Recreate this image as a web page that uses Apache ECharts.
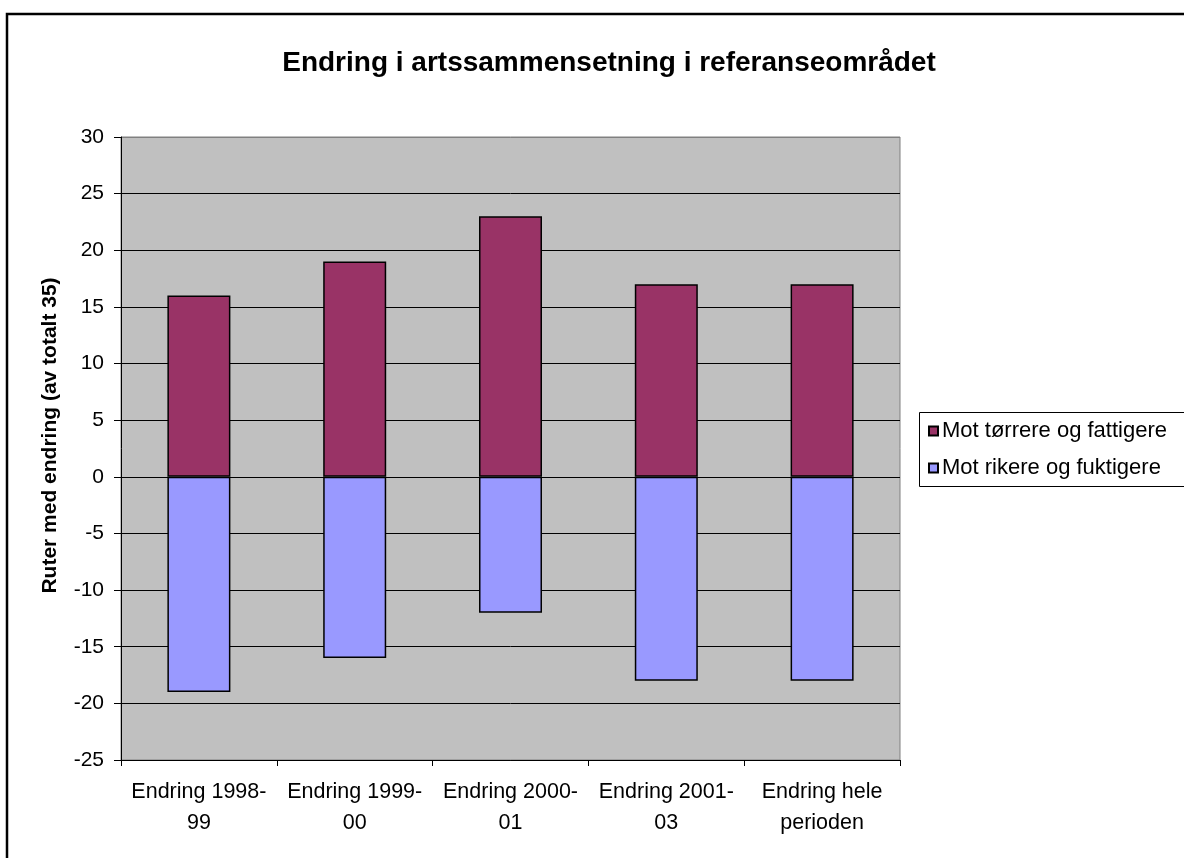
<!DOCTYPE html>
<html>
<head>
<meta charset="utf-8">
<script src="https://cdn.jsdelivr.net/npm/echarts@6/dist/echarts.min.js"></script>
<style>
  html, body { margin: 0; padding: 0; background: #fff; }
  #chart { width: 1184px; height: 858px; }
</style>
</head>
<body>
<div id="chart"></div>
<script>
// Category labels (explicit line breaks as shown under the axis)
const categories = ['Endring 1998-\n99', 'Endring 1999-\n00', 'Endring 2000-\n01', 'Endring 2001-\n03', 'Endring hele\nperioden'];
// Number of plots changing towards drier/poorer (positive) and richer/wetter (negative)
const torrereFattigere = [16, 19, 23, 17, 17];
const rikereFuktigere = [-19, -16, -12, -18, -18];
// Value axis range
const yMin = -25, yMax = 30, yStep = 5;

const FONT = 'Liberation Sans, Arial, sans-serif';
const chart = echarts.init(document.getElementById('chart'), null, { renderer: 'canvas' });

// one split line per tick from -25 to 30; the top one is the grey plot border
const nLines = (yMax - yMin) / yStep + 1;
const splitColors = [];
for (let i = 0; i < nLines; i++) splitColors.push(i === nLines - 1 ? '#808080' : '#000000');

chart.setOption({
  animation: false,
  backgroundColor: '#ffffff',
  textStyle: { fontFamily: FONT, color: '#000' },
  title: {
    text: 'Endring i artssammensetning i referanseområdet',
    left: 604, top: 44, textAlign: 'center',
    textStyle: { fontFamily: FONT, fontSize: 28, fontWeight: 'bold', color: '#000' }
  },
  graphic: [
    { type: 'rect', shape: { x: 7, y: 14, width: 1200, height: 900 },
      style: { fill: null, stroke: '#000', lineWidth: 2.5 }, silent: true, z: 100 },
    { type: 'rect', shape: { x: 919.5, y: 412.5, width: 300, height: 74 },
      style: { fill: '#fff', stroke: '#000', lineWidth: 1 }, silent: true, z: 1 }
  ],
  legend: {
    orient: 'vertical',
    left: 928, top: 420,
    padding: 0,
    itemWidth: 9, itemHeight: 9, itemGap: 15,
    icon: 'rect',
    textStyle: { fontFamily: FONT, fontSize: 22, lineHeight: 22, color: '#000', padding: [0, 0, 0, -1] },
    data: ['Mot tørrere og fattigere', 'Mot rikere og fuktigere'],
    z: 10
  },
  grid: {
    left: 121, top: 137, right: 284, bottom: 98,
    show: true, backgroundColor: '#c0c0c0', borderColor: '#808080', borderWidth: 1,
    containLabel: false
  },
  xAxis: {
    type: 'category',
    data: categories,
    boundaryGap: true,
    axisLine: { onZero: false, lineStyle: { color: '#000', width: 1 } },
    axisTick: { show: true, length: 6, lineStyle: { color: '#000' } },
    axisLabel: { fontFamily: FONT, fontSize: 21.5, color: '#000', margin: 17, lineHeight: 31, interval: 0 },
    splitLine: { show: false }
  },
  yAxis: {
    type: 'value',
    min: yMin, max: yMax, interval: yStep,
    name: 'Ruter med endring (av totalt 35)',
    nameLocation: 'middle', nameGap: 60, nameRotate: 90,
    nameTextStyle: { fontFamily: FONT, fontSize: 21, fontWeight: 'bold', color: '#000', padding: [0, 0, 0, 26] },
    axisLine: { show: true, lineStyle: { color: '#000', width: 1 } },
    axisTick: { show: true, length: 7, lineStyle: { color: '#000' } },
    axisLabel: { fontFamily: FONT, fontSize: 21, color: '#000', margin: 17 },
    splitLine: { show: true, lineStyle: { color: splitColors, width: 1 } }
  },
  series: [
    {
      name: 'Mot tørrere og fattigere',
      type: 'bar', stack: 'endring',
      barWidth: 63,
      data: torrereFattigere,
      itemStyle: { color: '#993366', borderColor: '#000', borderWidth: 1.5 }
    },
    {
      name: 'Mot rikere og fuktigere',
      type: 'bar', stack: 'endring',
      barWidth: 63,
      data: rikereFuktigere,
      itemStyle: { color: '#9999ff', borderColor: '#000', borderWidth: 1.5 }
    }
  ]
});
</script>
</body>
</html>
